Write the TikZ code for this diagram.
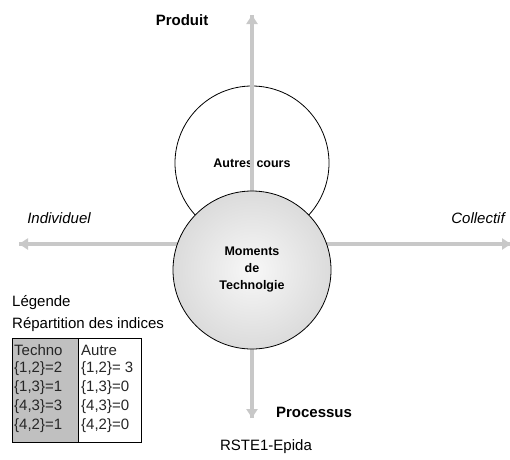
\documentclass[tikz,border=0pt]{standalone}
\usepackage{fontspec}
\setmainfont{Liberation Sans}
\usetikzlibrary{arrows.meta}
\definecolor{axisgray}{RGB}{200,200,200}
\definecolor{cellgray}{RGB}{192,192,192}
\tikzset{
  axisline/.style={draw=axisgray, line width=4pt, -{Triangle[width=11pt,length=9pt]}},
  plain/.style={font=\fontsize{15}{18}\selectfont, inner sep=0pt},
  boldlbl/.style={font=\fontsize{15}{18}\selectfont\bfseries, inner sep=0pt},
  itlbl/.style={font=\fontsize{15}{18}\selectfont\itshape, inner sep=0pt},
  cell/.style={font=\fontsize{15}{18}\selectfont, inner sep=0pt, anchor=west, text=black!85},
  circlbl/.style={font=\fontsize{12.5}{17}\selectfont\bfseries, inner sep=0pt, align=center},
}
\begin{document}
\begin{tikzpicture}[x=1pt,y=-1pt]
\useasboundingbox (0,0) rectangle (510,459);
% upper circle
\node[draw=black, line width=0.8pt, circle, minimum size=154pt, fill=white] (autres) at (252,163) {};
\node[circlbl] (autreslbl) at (252,163) {Autres cours};
% axes
\coordinate (ytop) at (252,15);
\coordinate (ybot) at (252,418);
\coordinate (xleft) at (19,244);
\coordinate (xright) at (511,244);
\draw[axisline] (ybot) -- (ytop);
\draw[axisline] (ytop) -- (ybot);
\draw[axisline] (xright) -- (xleft);
\draw[axisline] (xleft) -- (xright);
% lower shaded circle
\node[draw=black, line width=0.8pt, circle, minimum size=158pt, inner color=gray!6, outer color=gray!28] (moments) at (252,270) {};
\node[circlbl] (momentslbl) at (252,270) {Moments\\de\\Technolgie};
% axis labels
\node[boldlbl] (produit) at (182,20) {Produit};
\node[boldlbl] (processus) at (314,412) {Processus};
\node[itlbl] (indiv) at (59,218) {Individuel};
\node[itlbl] (collect) at (478,218) {Collectif};
\node[plain] (rste) at (266,447) {RSTE1-Epida};
% legend
\node[plain, anchor=west] (legende) at (12,303) {Légende};
\node[plain, anchor=west] (repart) at (12,325) {Répartition des indices};
\path[fill=cellgray] (12,338) rectangle (78,442);
\draw[black, line width=0.8pt] (12,338) rectangle (141,442);
\draw[black, line width=0.8pt] (78,338) -- (78,442);
\node[cell] (t0) at (14,350) {Techno};
\node[cell] (t1) at (14,369) {\{1,2\}=2};
\node[cell] (t2) at (14,388) {\{1,3\}=1};
\node[cell] (t3) at (14,407) {\{4,3\}=3};
\node[cell] (t4) at (14,426) {\{4,2\}=1};
\node[cell] (a0) at (81,350) {Autre};
\node[cell] (a1) at (81,369) {\{1,2\}= 3};
\node[cell] (a2) at (81,388) {\{1,3\}=0};
\node[cell] (a3) at (81,407) {\{4,3\}=0};
\node[cell] (a4) at (81,426) {\{4,2\}=0};
\end{tikzpicture}
\end{document}
